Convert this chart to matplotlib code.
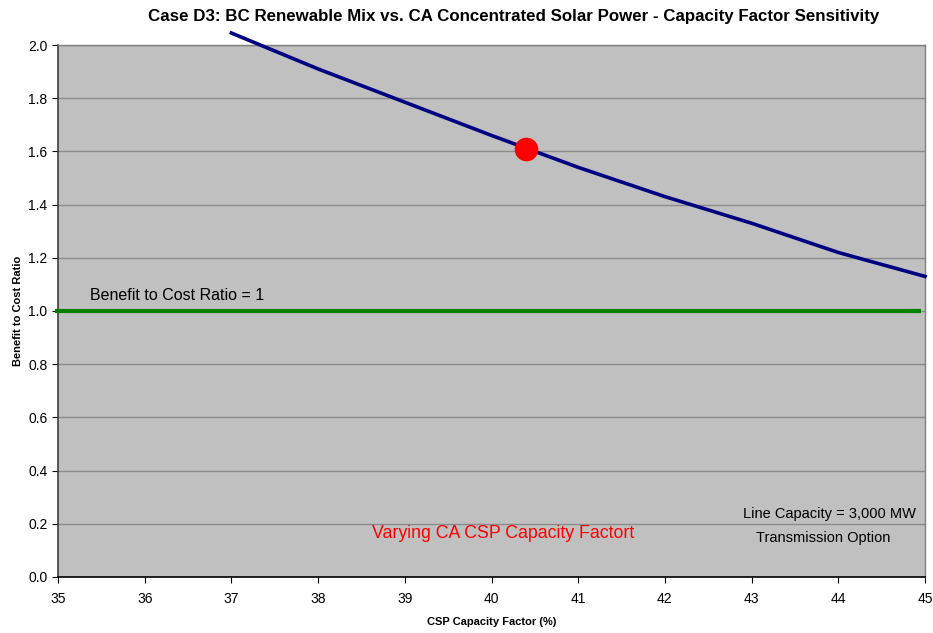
import matplotlib
matplotlib.use("Agg")
import matplotlib.pyplot as plt

plt.rcParams['font.family'] = ['Liberation Sans', 'DejaVu Sans']

# CSP capacity factor (%) vs benefit to cost ratio
cap_factor = [37, 38, 39, 40, 41, 42, 43, 44, 45]
bc_ratio = [2.045, 1.91, 1.785, 1.66, 1.54, 1.43, 1.33, 1.22, 1.13]
base_x = [40.4]
base_y = [1.61]
ref_x = [34.96, 44.95]
ref_y = [1.0, 1.0]

fig = plt.figure(figsize=(9.33, 6.33), dpi=100)
ax = fig.add_axes([0.0622, 0.0885, 0.9292, 0.8404])
ax.set_facecolor('#C0C0C0')

ax.plot(ref_x, ref_y, color='#008000', lw=3, solid_capstyle='butt', clip_on=False, zorder=3)
ax.plot(cap_factor, bc_ratio, color='#000080', lw=2.6, clip_on=False, zorder=4)
ax.plot(base_x, base_y, 'o', color='#FF0000', ms=16, zorder=5)

ax.set_xlim(35, 45)
ax.set_ylim(0, 2.0)
ax.set_xticks(range(35, 46))
ax.set_yticks([i / 5 for i in range(11)])
ax.set_yticklabels(['%.1f' % (i / 5) for i in range(11)])
ax.yaxis.grid(True, color='#8C8C8C', lw=1)
ax.set_axisbelow(True)
ax.tick_params(axis='both', labelsize=10, direction='out', length=4, colors='black')
ax.tick_params(axis='x', pad=7)

for s in ['top', 'right']:
    ax.spines[s].set_color('#808080')
    ax.spines[s].set_linewidth(1)
ax.spines['left'].set_color('#404040')
ax.spines['left'].set_linewidth(1.2)
ax.spines['bottom'].set_color('black')
ax.spines['bottom'].set_linewidth(1.2)

ax.set_xlabel('CSP Capacity Factor (%)', fontsize=8, fontweight='bold', labelpad=8)
ax.set_ylabel('Benefit to Cost Ratio', fontsize=8, fontweight='bold', labelpad=4)
fig.suptitle('Case D3: BC Renewable Mix vs. CA Concentrated Solar Power - Capacity Factor Sensitivity',
             x=0.551, y=0.985, fontsize=12.2, fontweight='bold')

ax.text(35.37, 1.03, 'Benefit to Cost Ratio = 1', fontsize=11.5, va='bottom', ha='left')
ax.text(40.13, 0.165, 'Varying CA CSP Capacity Factort', fontsize=12.8, color='#FF0000',
        ha='center', va='center')
ax.text(44.9, 0.235, 'Line Capacity = 3,000 MW', fontsize=10.5, ha='right', va='center')
ax.text(43.83, 0.147, 'Transmission Option', fontsize=10.5, ha='center', va='center')

fig.savefig('out.png', dpi=100)
